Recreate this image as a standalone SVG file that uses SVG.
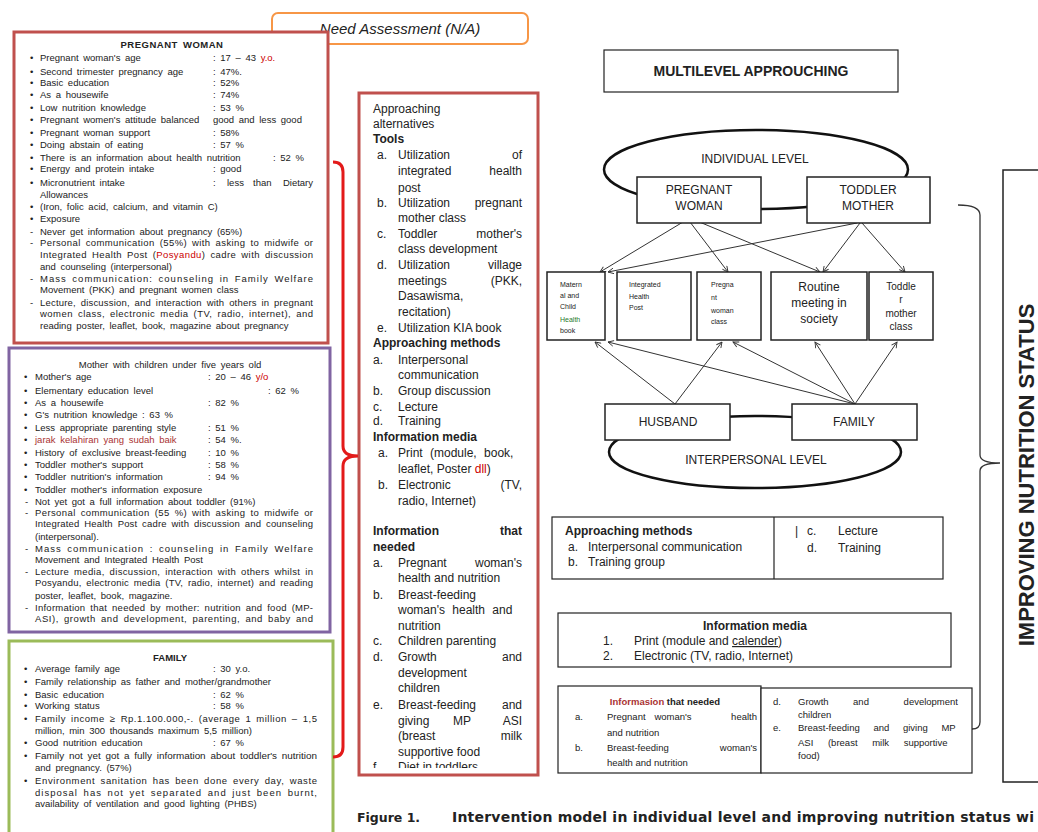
<svg xmlns="http://www.w3.org/2000/svg" width="1038" height="832" viewBox="0 0 1038 832">
<defs>
<style>
.s{font-family:"Liberation Sans",Arial,sans-serif;fill:#222}
.sm{font-size:9.5px;word-spacing:2px}
.md{font-size:12px}
.b{font-weight:bold}
.c{text-anchor:middle}
.e{text-anchor:end}
.red{fill:#c00}
.box{fill:#fff;stroke:#222;stroke-width:1.5}
.arr{stroke:#333;stroke-width:1;fill:none;marker-end:url(#ah)}
</style>
<marker id="ah" viewBox="0 0 10 10" refX="9" refY="5" markerWidth="7" markerHeight="7" orient="auto" markerUnits="userSpaceOnUse">
<path d="M1,1 L9,5 L1,9" fill="none" stroke="#333" stroke-width="1.3"/>
</marker>
<clipPath id="midclip"><rect x="358" y="92" width="180" height="676"/></clipPath>
<clipPath id="matclip"><rect x="547" y="272" width="58" height="66"/></clipPath>
</defs>
<rect width="1038" height="832" fill="#fff"/>

<g id="need-assessment">
<rect x="272" y="13" width="256" height="31" rx="6" fill="#fff" stroke="#f79646" stroke-width="2"/>
<text x="400" y="34" class="s c" font-size="15" font-style="italic">Need Assessment (N/A)</text>
</g>

<g id="pregnant-woman-na">
<rect x="14" y="32" width="314" height="311" fill="#fff" stroke="#c0504d" stroke-width="3"/>
<g class="s sm">
<text x="172" y="48" class="c b" letter-spacing="0.5">PREGNANT WOMAN</text>
<text x="30" y="61">•</text><text x="40" y="61">Pregnant woman's age</text><text x="213" y="61">: 17 – 43 <tspan class="red">y.o.</tspan></text>
<text x="30" y="75">•</text><text x="40" y="75">Second trimester pregnancy age</text><text x="213" y="75">: 47%.</text>
<text x="30" y="86">•</text><text x="40" y="86">Basic education</text><text x="213" y="86">: 52%</text>
<text x="30" y="98">•</text><text x="40" y="98">As a housewife</text><text x="213" y="98">: 74%</text>
<text x="30" y="111">•</text><text x="40" y="111">Low nutrition knowledge</text><text x="213" y="111">: 53 %</text>
<text x="30" y="123">•</text><text x="40" y="123">Pregnant women's attitude balanced</text><text x="213" y="123">good and less good</text>
<text x="30" y="136">•</text><text x="40" y="136">Pregnant woman support</text><text x="213" y="136">: 58%</text>
<text x="30" y="148">•</text><text x="40" y="148">Doing abstain of eating</text><text x="213" y="148">: 57 %</text>
<text x="30" y="161">•</text><text x="40" y="161">There is an information about health nutrition</text><text x="273" y="161">: 52 %</text>
<text x="30" y="172">•</text><text x="40" y="172">Energy and protein intake</text><text x="213" y="172">: good</text>
<text x="30" y="186">•</text><text x="40" y="186">Micronutrient intake</text><text x="213" y="186">:</text><text x="227" y="186">less</text><text x="253" y="186">than</text><text x="313" y="186" class="e">Dietary</text>
<text x="40" y="198">Allowances</text>
<text x="30" y="210">•</text><text x="40" y="210">(Iron, folic acid, calcium, and vitamin C)</text>
<text x="30" y="222">•</text><text x="40" y="222">Exposure</text>
<text x="30" y="235">-</text><text x="40" y="235">Never get information about pregnancy (65%)</text>
<text x="30" y="246">-</text><text x="40" y="246" textLength="273" lengthAdjust="spacing">Personal communication (55%) with asking to midwife or</text>
<text x="40" y="258" textLength="273" lengthAdjust="spacing">Integrated Health Post (<tspan class="red">Posyandu</tspan>) cadre with discussion</text>
<text x="40" y="270">and counseling (interpersonal)</text>
<text x="30" y="282">-</text><text x="40" y="282" textLength="273" lengthAdjust="spacing">Mass communication: counseling in Family Welfare</text>
<text x="40" y="293">Movement (PKK) and pregnant women class</text>
<text x="30" y="306">-</text><text x="40" y="306" textLength="273" lengthAdjust="spacing">Lecture, discussion, and interaction with others in pregnant</text>
<text x="40" y="317" textLength="273" lengthAdjust="spacing">women class, electronic media (TV, radio, internet), and</text>
<text x="40" y="329">reading poster, leaflet, book, magazine about pregnancy</text>
</g>
</g>

<g id="mother-na">
<rect x="9" y="348" width="321" height="284" fill="#fff" stroke="#8064a2" stroke-width="3"/>
<g class="s sm">
<text x="170" y="368" class="c">Mother with children under five years old</text>
<text x="24" y="380">•</text><text x="35" y="380">Mother's age</text><text x="208" y="380">: 20 – 46 <tspan class="red">y/o</tspan></text>
<text x="24" y="394">•</text><text x="35" y="394">Elementary education level</text><text x="268" y="394">: 62 %</text>
<text x="24" y="406">•</text><text x="35" y="406">As a housewife</text><text x="208" y="406">: 82 %</text>
<text x="24" y="418">•</text><text x="35" y="418">G's nutrition knowledge : 63 %</text>
<text x="24" y="431">•</text><text x="35" y="431">Less appropriate parenting style</text><text x="208" y="431">: 51 %</text>
<text x="24" y="443">•</text><text x="35" y="443" fill="#a33">jarak kelahiran yang sudah baik</text><text x="208" y="443">: 54 %.</text>
<text x="24" y="456">•</text><text x="35" y="456">History of exclusive breast-feeding</text><text x="208" y="456">: 10 %</text>
<text x="24" y="468">•</text><text x="35" y="468">Toddler mother's support</text><text x="208" y="468">: 58 %</text>
<text x="24" y="480">•</text><text x="35" y="480">Toddler nutrition's information</text><text x="208" y="480">: 94 %</text>
<text x="24" y="493">•</text><text x="35" y="493">Toddler mother's information exposure</text>
<text x="25" y="505">-</text><text x="35" y="505">Not yet got a full information about toddler (91%)</text>
<text x="25" y="516">-</text><text x="35" y="516" textLength="278" lengthAdjust="spacing">Personal communication (55 %) with asking to midwife or</text>
<text x="35" y="527" textLength="278" lengthAdjust="spacing">Integrated Health Post cadre with discussion and counseling</text>
<text x="35" y="540">(interpersonal).</text>
<text x="25" y="552">-</text><text x="35" y="552" textLength="278" lengthAdjust="spacing">Mass communication : counseling in Family Welfare</text>
<text x="35" y="563">Movement and Integrated Health Post</text>
<text x="25" y="575">-</text><text x="35" y="575" textLength="278" lengthAdjust="spacing">Lecture media, discussion, interaction with others whilst in</text>
<text x="35" y="586" textLength="278" lengthAdjust="spacing">Posyandu, electronic media (TV, radio, internet) and reading</text>
<text x="35" y="599">poster, leaflet, book, magazine.</text>
<text x="25" y="611">-</text><text x="35" y="611" textLength="278" lengthAdjust="spacing">Information that needed by mother: nutrition and food (MP-</text>
<text x="35" y="622" textLength="278" lengthAdjust="spacing">ASI), growth and development, parenting, and baby and</text>
</g>
</g>

<g id="family-na">
<rect x="9" y="641" width="324" height="200" fill="#fff" stroke="#9bbb59" stroke-width="3"/>
<g class="s sm">
<text x="170" y="661" class="c b">FAMILY</text>
<text x="24" y="672">•</text><text x="35" y="672">Average family age</text><text x="213" y="672">: 30 y.o.</text>
<text x="24" y="685">•</text><text x="35" y="685">Family relationship as father and mother/grandmother</text>
<text x="24" y="698">•</text><text x="35" y="698">Basic education</text><text x="213" y="698">: 62 %</text>
<text x="24" y="709">•</text><text x="35" y="709">Working status</text><text x="213" y="709">: 58 %</text>
<text x="24" y="722">•</text><text x="35" y="722" textLength="282" lengthAdjust="spacing">Family income ≥ Rp.1.100.000,-. (average 1 million – 1,5</text>
<text x="35" y="734">million, min 300 thousands maximum 5,5 million)</text>
<text x="24" y="746">•</text><text x="35" y="746">Good nutrition education</text><text x="213" y="746">: 67 %</text>
<text x="24" y="759">•</text><text x="35" y="759" textLength="282" lengthAdjust="spacingAndGlyphs">Family not yet got a fully information about toddler's nutrition</text>
<text x="35" y="771">and pregnancy. (57%)</text>
<text x="24" y="784">•</text><text x="35" y="784" textLength="282" lengthAdjust="spacing">Environment sanitation has been done every day, waste</text>
<text x="35" y="796" textLength="282" lengthAdjust="spacing">disposal has not yet separated and just been burnt,</text>
<text x="35" y="807">availability of ventilation and good lighting (PHBS)</text>
</g>
</g>

<g id="approaching-alternatives">
<rect x="359" y="93" width="179" height="682" fill="#fff" stroke="#c0504d" stroke-width="3"/>
<g class="s md" clip-path="url(#midclip)">
<text x="373" y="113">Approaching</text>
<text x="373" y="128">alternatives</text>
<text x="373" y="143" class="b">Tools</text>
<text x="377" y="159">a.</text><text x="398" y="159">Utilization</text><text x="522" y="159" class="e">of</text>
<text x="398" y="175">integrated</text><text x="522" y="175" class="e">health</text>
<text x="398" y="192">post</text>
<text x="377" y="207">b.</text><text x="398" y="207">Utilization</text><text x="522" y="207" class="e">pregnant</text>
<text x="398" y="222">mother class</text>
<text x="377" y="238">c.</text><text x="398" y="238">Toddler</text><text x="522" y="238" class="e">mother's</text>
<text x="398" y="253">class development</text>
<text x="377" y="269">d.</text><text x="398" y="269">Utilization</text><text x="522" y="269" class="e">village</text>
<text x="398" y="285">meetings</text><text x="522" y="285" class="e">(PKK,</text>
<text x="398" y="300">Dasawisma,</text>
<text x="398" y="316">recitation)</text>
<text x="377" y="332">e.</text><text x="398" y="332">Utilization KIA book</text>
<text x="373" y="347" class="b">Approaching methods</text>
<text x="373" y="364">a.</text><text x="398" y="364">Interpersonal</text>
<text x="398" y="379">communication</text>
<text x="373" y="395">b.</text><text x="398" y="395">Group discussion</text>
<text x="373" y="411">c.</text><text x="398" y="411">Lecture</text>
<text x="373" y="425">d.</text><text x="398" y="425">Training</text>
<text x="373" y="441" class="b">Information media</text>
<text x="378" y="457">a.</text><text x="398" y="457" word-spacing="4">Print (module, book,</text>
<text x="398" y="473">leaflet, Poster <tspan class="red">dll</tspan>)</text>
<text x="378" y="489">b.</text><text x="398" y="489">Electronic</text><text x="522" y="489" class="e">(TV,</text>
<text x="398" y="505">radio, Internet)</text>
<text x="373" y="535" class="b">Information</text><text x="522" y="535" class="b e">that</text>
<text x="373" y="551" class="b">needed</text>
<text x="373" y="567">a.</text><text x="398" y="567">Pregnant</text><text x="522" y="567" class="e">woman's</text>
<text x="398" y="582">health and nutrition</text>
<text x="373" y="599">b.</text><text x="398" y="599">Breast-feeding</text>
<text x="398" y="614" word-spacing="4">woman's health and</text>
<text x="398" y="630">nutrition</text>
<text x="373" y="645">c.</text><text x="398" y="645">Children parenting</text>
<text x="373" y="661">d.</text><text x="398" y="661">Growth</text><text x="522" y="661" class="e">and</text>
<text x="398" y="677">development</text>
<text x="398" y="692">children</text>
<text x="373" y="709">e.</text><text x="398" y="709">Breast-feeding</text><text x="522" y="709" class="e">and</text>
<text x="398" y="725">giving</text><text x="462" y="725" class="c">MP</text><text x="522" y="725" class="e">ASI</text>
<text x="398" y="740">(breast</text><text x="522" y="740" class="e">milk</text>
<text x="398" y="756">supportive food</text>
<text x="373" y="771">f.</text><text x="398" y="771">Diet in toddlers</text>
</g>
</g>

<g id="multilevel-title">
<rect x="604" y="50" width="294" height="42" fill="#fff" stroke="#222" stroke-width="1.2"/>
<text x="751" y="76" class="s b c" font-size="14">MULTILEVEL APPROUCHING</text>
</g>

<g id="individual-level">
<ellipse cx="756" cy="169.5" rx="152" ry="39.5" fill="none" stroke="#111" stroke-width="2.5"/>
<text x="755" y="163" class="s md c">INDIVIDUAL LEVEL</text>
</g>
<g id="interpersonal-level">
<ellipse cx="755" cy="452" rx="146" ry="36" fill="none" stroke="#111" stroke-width="2.5"/>
<text x="756" y="464" class="s md c">INTERPERSONAL LEVEL</text>
</g>

<g id="connectors">
<line class="arr" x1="683" y1="222" x2="600" y2="272"/>
<line class="arr" x1="690" y1="222" x2="728" y2="272"/>
<line class="arr" x1="697" y1="221" x2="820" y2="272"/>
<line class="arr" x1="857" y1="223" x2="608" y2="272"/>
<line class="arr" x1="860" y1="223" x2="823" y2="272"/>
<line class="arr" x1="862" y1="223" x2="905" y2="272"/>
<line class="arr" x1="675" y1="404" x2="595" y2="342"/>
<line class="arr" x1="675" y1="404" x2="722" y2="342"/>
<line class="arr" x1="855" y1="404" x2="608" y2="342"/>
<line class="arr" x1="855" y1="404" x2="733" y2="342"/>
<line class="arr" x1="855" y1="404" x2="815" y2="342"/>
<line class="arr" x1="855" y1="404" x2="897" y2="342"/>
<path d="M333,162 Q343,162 343,172 L343,446 Q343,456 358,456 Q343,456 343,466 L343,747 Q343,757 333,757" fill="none" stroke="#e31a1a" stroke-width="3"/>
<path d="M958,205 Q980,205 980,215 L980,455 Q980,463 1000,463 Q980,463 980,471 L980,722 Q980,729 972,729" fill="none" stroke="#333" stroke-width="1.3"/>
</g>

<g id="pregnant-woman">
<rect class="box" x="637" y="177" width="124" height="46"/>
<text x="699" y="194" class="s md c">PREGNANT</text>
<text x="699" y="210" class="s md c">WOMAN</text>
</g>
<g id="toddler-mother">
<rect class="box" x="807" y="177" width="123" height="46"/>
<text x="868" y="194" class="s md c">TODDLER</text>
<text x="868" y="210" class="s md c">MOTHER</text>
</g>

<g id="maternal-child-health-book">
<rect class="box" x="547" y="272" width="58" height="68"/>
<g class="s" font-size="7" clip-path="url(#matclip)">
<text x="560" y="287">Matern</text>
<text x="560" y="298">al and</text>
<text x="560" y="309">Child</text>
<text x="560" y="322" fill="#2a7a2a">Health</text>
<text x="560" y="333">book</text>
</g>
</g>
<g id="integrated-health-post">
<rect class="box" x="617" y="272" width="74" height="68"/>
<g class="s" font-size="7">
<text x="629" y="287">Integrated</text>
<text x="629" y="299">Health</text>
<text x="629" y="310">Post</text>
</g>
</g>
<g id="pregnant-woman-class">
<rect class="box" x="697" y="272" width="64" height="68"/>
<g class="s" font-size="7">
<text x="711" y="287">Pregna</text>
<text x="711" y="300">nt</text>
<text x="711" y="313">woman</text>
<text x="711" y="324">class</text>
</g>
</g>
<g id="routine-meeting">
<rect class="box" x="771" y="272" width="96" height="68"/>
<text x="819" y="291" class="s md c">Routine</text>
<text x="819" y="307" class="s md c">meeting in</text>
<text x="819" y="323" class="s md c">society</text>
</g>
<g id="toddler-mother-class">
<rect class="box" x="869" y="272" width="64" height="68"/>
<g class="s c" font-size="10">
<text x="901" y="290">Toddle</text>
<text x="901" y="303">r</text>
<text x="901" y="317">mother</text>
<text x="901" y="330">class</text>
</g>
</g>

<g id="husband">
<rect class="box" x="605" y="404" width="125" height="36"/>
<text x="668" y="426" class="s md c">HUSBAND</text>
</g>
<g id="family">
<rect class="box" x="792" y="404" width="125" height="36"/>
<text x="854" y="426" class="s md c">FAMILY</text>
</g>

<g id="approaching-methods">
<rect x="552" y="517" width="391" height="62" fill="#fff" stroke="#222" stroke-width="1.2"/>
<line x1="774" y1="517" x2="774" y2="579" stroke="#222" stroke-width="1.2"/>
<g class="s md">
<text x="565" y="535" class="b">Approaching methods</text>
<text x="568" y="551">a.</text><text x="588" y="551">Interpersonal communication</text>
<text x="568" y="566">b.</text><text x="588" y="566">Training group</text>
<text x="795" y="535">|</text><text x="807" y="535">c.</text><text x="838" y="535">Lecture</text>
<text x="807" y="552">d.</text><text x="838" y="552">Training</text>
</g>
</g>

<g id="information-media">
<rect x="558" y="613" width="393" height="54" fill="#fff" stroke="#222" stroke-width="1.2"/>
<g class="s md">
<text x="755" y="630" class="b c">Information media</text>
<text x="603" y="645">1.</text><text x="634" y="645">Print (module and <tspan text-decoration="underline">calender</tspan>)</text>
<text x="603" y="660">2.</text><text x="634" y="660">Electronic (TV, radio, Internet)</text>
</g>
</g>

<g id="information-needed">
<rect x="558" y="686" width="203" height="87" fill="#fff" stroke="#222" stroke-width="1.2"/>
<rect x="761" y="688" width="211" height="85" fill="#fff" stroke="#222" stroke-width="1.2"/>
<g class="s" font-size="9.5">
<text x="665" y="705" class="c b"><tspan fill="#a33">Informasion</tspan> that needed</text>
<text x="575" y="720">a.</text><text x="607" y="720">Pregnant</text><text x="673" y="720" class="c">woman's</text><text x="757" y="720" class="e">health</text>
<text x="607" y="736">and nutrition</text>
<text x="575" y="751">b.</text><text x="607" y="751">Breast-feeding</text><text x="757" y="751" class="e">woman's</text>
<text x="607" y="766">health and nutrition</text>
<text x="773" y="705">d.</text><text x="798" y="705">Growth</text><text x="861" y="705" class="c">and</text><text x="958" y="705" class="e">development</text>
<text x="798" y="718">children</text>
<text x="773" y="731">e.</text><text x="798" y="731" word-spacing="11">Breast-feeding and giving MP</text>
<text x="798" y="746" word-spacing="12">ASI (breast milk supportive</text>
<text x="798" y="759">food)</text>
</g>
</g>

<g id="improving-nutrition-status">
<rect x="1003" y="170" width="50" height="612" fill="#fff" stroke="#222" stroke-width="1.5"/>
<text transform="translate(1034,475) rotate(-90)" class="s b c" font-size="22">IMPROVING NUTRITION STATUS</text>
</g>

<g id="caption" font-family="'DejaVu Sans',Verdana,sans-serif" font-weight="bold" fill="#222">
<text x="357" y="822" font-size="12.5">Figure 1.</text>
<text x="452" y="822" font-size="14" textLength="582" lengthAdjust="spacing">Intervention model in individual level and improving nutrition status wi</text>
</g>
</svg>
